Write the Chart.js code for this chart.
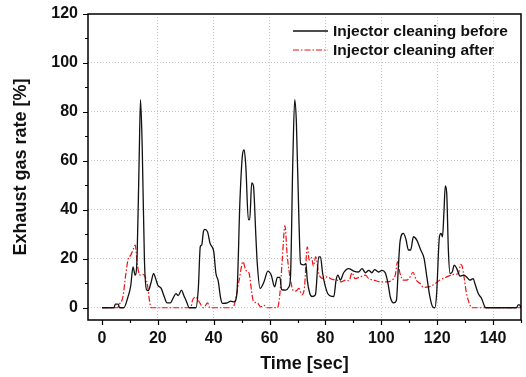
<!DOCTYPE html>
<html>
<head>
<meta charset="utf-8">
<script src="https://cdn.jsdelivr.net/npm/chart.js@4"></script>
<style>
  html, body { margin: 0; padding: 0; background: #fff; }
  #wrap { width: 526px; height: 377px; }
</style>
</head>
<body>
<div id="wrap"><canvas id="chart" width="526" height="377"></canvas></div>
<script>
// time axis (sec) and exhaust gas rate (%)
const timeBefore = [0, 4.3, 4.8, 5.8, 6.3, 7.8, 9.3, 10.3, 11.1, 11.9, 12.6, 13.3, 13.8, 14.4, 15.2, 16, 16.6, 17.5, 18.5, 19.2,
  20, 21.2, 22.3, 23.3, 24.5, 25.5, 26.5, 27.3, 28.5, 29.3, 30.1, 31.3, 33.6, 34.5, 35.2, 35.7, 36.3, 36.8, 37.8, 38.7,
  40, 40.8, 41.6, 42.5, 43.1, 44.9, 46.1, 47.3, 48.3, 49.4, 50.3, 50.9, 51.5, 52.4, 52.9, 53.6, 54.2, 55.1, 55.6, 56.6,
  58, 59.4, 60.6, 61.8, 62.8, 63.7, 64.3, 65.7, 66.9, 67.5, 68.3, 69, 69.6, 70.5, 71.1, 72.3, 73, 73.5, 74.4, 75.2,
  76.4, 77.6, 78.2, 79, 80, 80.8, 81.8, 83, 83.8, 84.5, 85.3, 86.5, 88.3, 90.1, 91.8, 93.1, 94.3, 95.5, 96.6, 97.6,
  99, 100.2, 101.4, 102.4, 103.2, 104.4, 105.4, 106.1, 106.7, 107.9, 108.8, 109.7, 110.5, 111.5, 112.7, 114.1, 115.3, 116.3, 117.4, 118.4,
  119.2, 119.8, 120.8, 121.4, 121.9, 122.4, 122.9, 123.4, 124, 124.6, 125.4, 126.1, 127, 128.2, 129.4, 130.5, 131.7, 132.9, 133.5, 134.7,
  135.9, 137.1, 137.7, 148.4, 149, 149.5, 150];
const rateBefore = [0, 0, 1.5, 1.5, 0, 0, 4.4, 9, 16.7, 13.3, 22, 60, 85, 66, 19.5, 7.2, 7, 10, 14, 12,
  9.2, 7.9, 4.5, 2, 2, 4, 5.8, 5, 7.2, 5, 3, 0, 0, 8, 25, 25.6, 31, 32, 31, 26.3,
  23, 14, 11, 3.8, 1.8, 2, 2.7, 2.4, 5.8, 44, 62.5, 64.5, 57.7, 36, 36, 51, 50, 29, 18, 7.9,
  10.6, 15, 13.3, 8.5, 12.4, 12.4, 7.4, 7.2, 8.5, 13, 59, 85, 75.5, 36, 18, 17.5, 18, 11.3, 5.8, 4.6,
  5.3, 20.8, 20.8, 14, 8.5, 5.8, 4.8, 4.6, 11.3, 13.3, 11.3, 14.3, 16, 15, 14.6, 16, 14.3, 15.3, 14.3, 15.6,
  14.6, 15.3, 14.3, 9.9, 4.4, 2, 3, 16.7, 27, 30.4, 28, 23.6, 23.6, 29, 27.6, 23.6, 20.2, 12.6, 4.4, 0.3,
  0, 5.8, 29, 30.4, 29, 38.6, 49.8, 47, 23.6, 14, 14.6, 17.4, 16, 12.9, 13.3, 12.6, 11.3, 11.9, 9.9, 5.8,
  3.8, 0.3, 0, 0, 1.2, 1.2, 0];

const timeAfter = [0, 5.5, 6.3, 7.5, 8.4, 9.3, 10.3, 11.1, 11.9, 12.5, 13.1, 13.8, 14.6, 15.5, 16.4, 17, 17.6, 31.8, 32.4, 33.6,
  34.8, 36.4, 37.8, 38.7, 46.7, 47.5, 49.1, 50.5, 51.5, 52.7, 53.5, 54.2, 55.6, 56.8, 58, 59.2, 62.8, 63.7, 64.6, 65.5,
  66.3, 67.5, 68.5, 69.3, 70.5, 71.6, 72.5, 73.5, 74.2, 75, 75.7, 76.5, 77.6, 78.8, 80.6, 82.4, 84.2, 85.6, 87.2, 88.4,
  89.5, 90.6, 92.4, 94.3, 95.5, 97.3, 99.6, 102, 103.8, 105, 105.8, 106.7, 107.9, 109.1, 110.3, 111.3, 112.5, 113.9, 115.1, 116.9,
  118.7, 121, 123.4, 125.8, 127.6, 128.4, 129, 129.6, 130.5, 131.5, 132.3, 150];
const rateAfter = [0, 0, 1.5, 4.4, 12.6, 19.5, 21.5, 23.6, 25.6, 19.5, 14.7, 13.3, 13.6, 12.6, 8.5, 3, 0, 0, 3, 4.4,
  2.4, 0, 2, 0, 0, 1.8, 11.3, 18.8, 15.3, 14, 7.2, 2.7, 2, 0.4, 1, 0, 0, 5.8, 20.8, 33.5,
  21.5, 11.3, 7, 6.8, 7.9, 5.3, 8.5, 24.9, 19.5, 20.5, 17, 20.8, 14, 12, 12.6, 11.6, 11.3, 10.6, 11.3, 11,
  14.3, 11.9, 12.6, 13.3, 11.9, 11.3, 10.6, 10.6, 11.3, 13.3, 18.8, 14, 11.3, 11.3, 12.6, 14.5, 11.3, 9.9, 8.3, 8.5,
  9.4, 11.3, 12.6, 13.6, 14, 17.7, 16.8, 12.6, 5.8, 1.8, 0, 0];

const seriesNames = ['Injector cleaning before', 'Injector cleaning after'];
const xTicks = [0, 10, 20, 30, 40, 50, 60, 70, 80, 90, 100, 110, 120, 130, 140, 150];
const yTicks = [0, 10, 20, 30, 40, 50, 60, 70, 80, 90, 100, 110, 120];

function toPoints(xs, ys) {
  return xs.map((x, i) => ({ x: x, y: ys[i] }));
}

const FONT = 'Liberation Sans, Arial, sans-serif';

// frame, tick marks and legend drawn over the chart area
const framePlugin = {
  id: 'frame',
  afterDraw(chart) {
    const ctx = chart.ctx;
    const a = chart.chartArea;
    const xs = chart.scales.x, ys = chart.scales.y;
    ctx.save();
    ctx.strokeStyle = '#000';
    ctx.lineWidth = 1.5;
    ctx.strokeRect(a.left, a.top, a.right - a.left, a.bottom - a.top);
    ctx.lineWidth = 1.2;
    ctx.beginPath();
    xTicks.forEach(v => {
      const px = Math.round(xs.getPixelForValue(v)) + 0.5;
      const len = v % 20 === 0 ? 5 : 3;
      ctx.moveTo(px, a.bottom);
      ctx.lineTo(px, a.bottom + len);
    });
    yTicks.forEach(v => {
      const py = Math.round(ys.getPixelForValue(v)) + 0.5;
      const len = v % 20 === 0 ? 5 : 3;
      ctx.moveTo(a.left, py);
      ctx.lineTo(a.left - len, py);
    });
    ctx.stroke();

    // legend
    const items = chart.data.datasets;
    ctx.font = 'bold 15.5px ' + FONT;
    ctx.textBaseline = 'middle';
    items.forEach((ds, i) => {
      const y = a.top + 17 + i * 19;
      ctx.strokeStyle = ds.borderColor;
      ctx.lineWidth = ds.borderWidth;
      ctx.setLineDash(ds.borderDash || []);
      ctx.beginPath();
      ctx.moveTo(293, y);
      ctx.lineTo(328, y);
      ctx.stroke();
      ctx.setLineDash([]);
      ctx.fillStyle = '#111';
      ctx.fillText(ds.label, 333, y + 1);
    });
    ctx.restore();
  }
};

new Chart(document.getElementById('chart'), {
  type: 'line',
  data: {
    datasets: [
      {
        label: seriesNames[0],
        data: toPoints(timeBefore, rateBefore),
        borderColor: '#111',
        borderWidth: 1.3,
        pointRadius: 0,
        cubicInterpolationMode: 'monotone',
        fill: false
      },
      {
        label: seriesNames[1],
        data: toPoints(timeAfter, rateAfter),
        borderColor: '#f01010',
        borderWidth: 1.2,
        borderDash: [6, 2, 1.5, 2],
        pointRadius: 0,
        cubicInterpolationMode: 'monotone',
        fill: false
      }
    ]
  },
  options: {
    responsive: false,
    animation: false,
    layout: { padding: { top: 14, right: 5, left: 0, bottom: 0 } },
    plugins: {
      legend: { display: false },
      tooltip: { enabled: false }
    },
    scales: {
      x: {
        type: 'linear',
        min: -5,
        max: 150,
        afterBuildTicks: s => { s.ticks = xTicks.map(v => ({ value: v })); },
        afterFit: s => { s.height = 57; s.paddingLeft = 0; s.paddingRight = 0; },
        grid: {
          drawTicks: false,
          lineWidth: 1,
          color: c => (c.tick && c.tick.value % 20 === 0 && c.tick.value > 0 && c.tick.value < 150) ? '#c8c8c8' : 'rgba(0,0,0,0)'
        },
        border: { display: false, dash: [1, 2] },
        ticks: {
          padding: 9,
          maxRotation: 0,
          autoSkip: false,
          color: '#111',
          font: { family: FONT, size: 16, weight: 'bold' },
          callback: v => (v % 20 === 0 && v <= 140) ? String(v) : ''
        },
        title: {
          display: true,
          text: 'Time [sec]',
          color: '#111',
          padding: { top: 0, bottom: 2 },
          font: { family: FONT, size: 18, weight: 'bold' }
        }
      },
      y: {
        min: -5,
        max: 120,
        afterBuildTicks: s => { s.ticks = yTicks.map(v => ({ value: v })); },
        afterFit: s => { s.width = 88; s.paddingTop = 0; s.paddingBottom = 0; },
        grid: {
          drawTicks: false,
          lineWidth: 1,
          color: c => (c.tick && c.tick.value % 20 === 0 && c.tick.value < 120) ? '#c8c8c8' : 'rgba(0,0,0,0)'
        },
        border: { display: false, dash: [1, 2] },
        ticks: {
          padding: 10,
          autoSkip: false,
          color: '#111',
          font: { family: FONT, size: 16, weight: 'bold' },
          callback: v => (v % 20 === 0) ? String(v) : ''
        },
        title: {
          display: true,
          text: 'Exhaust gas rate [%]',
          color: '#111',
          padding: { top: 10, bottom: 0 },
          font: { family: FONT, size: 18, weight: 'bold' }
        }
      }
    }
  },
  plugins: [framePlugin]
});
</script>
</body>
</html>
